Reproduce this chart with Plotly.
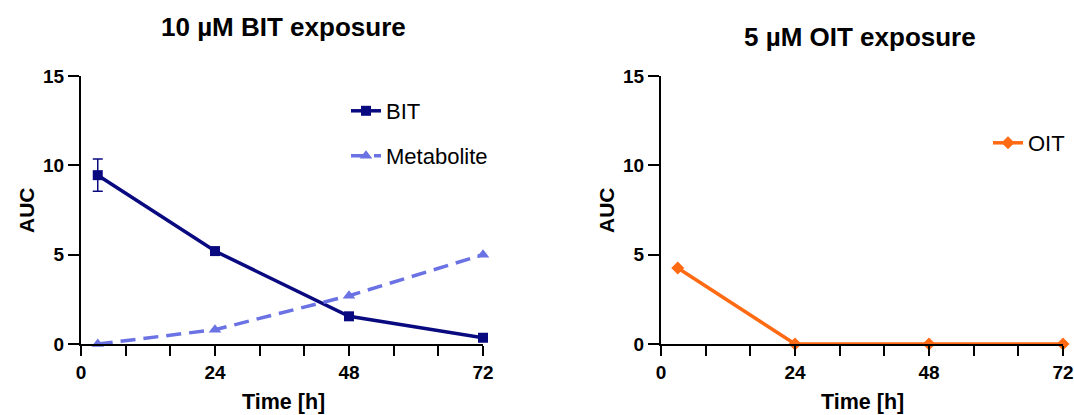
import plotly.graph_objects as go

W, H = 1074, 415

time_bit = [3, 24, 48, 72]
bit_auc = [9.45, 5.2, 1.55, 0.35]
bit_err = [0.9, 0.0, 0.0, 0.0]
metab_auc = [0.0, 0.8, 2.7, 5.0]

time_oit = [3, 24, 48, 72]
oit_auc = [4.25, 0.0, 0.0, 0.0]

x_tickvals = [0, 8, 16, 24, 32, 40, 48, 56, 64, 72]
x_ticktext = ["0", "", "", "24", "", "", "48", "", "", "72"]
y_tickvals = [0, 5, 10, 15]

titles = ["10 µM BIT exposure", "5 µM OIT exposure"]

NAVY = "#0a0a80"
METAB = "#6a72e4"
ORANGE = "#ff6a13"
FONT = "Arial, Liberation Sans, sans-serif"

fig = go.Figure()
fig.add_trace(go.Scatter(
    x=time_bit, y=bit_auc, name="BIT", mode="lines+markers",
    line=dict(color=NAVY, width=3.5),
    marker=dict(symbol="square", size=10, color=NAVY),
    error_y=dict(type="data", array=bit_err, visible=True, color=NAVY, thickness=1.5, width=5),
    xaxis="x", yaxis="y", legend="legend", cliponaxis=False))
fig.add_trace(go.Scatter(
    x=time_bit, y=metab_auc, name="Metabolite", mode="lines+markers",
    line=dict(color=METAB, width=3.5, dash="15px,8px"),
    marker=dict(symbol="triangle-up", size=11, color=METAB),
    xaxis="x", yaxis="y", legend="legend2", cliponaxis=False))
fig.add_trace(go.Scatter(
    x=time_oit, y=oit_auc, name="OIT", mode="lines+markers",
    line=dict(color=ORANGE, width=3.5),
    marker=dict(symbol="diamond", size=10, color=ORANGE),
    xaxis="x2", yaxis="y2", legend="legend3", cliponaxis=False))

def px_x(p):
    return p / W

def px_y(p):
    return 1 - p / H

ydom = [px_y(344), px_y(76)]
xdom1 = [px_x(81), px_x(483)]
xdom2 = [px_x(661), px_x(1063)]

xax = dict(range=[0, 72], tickmode="array", tickvals=x_tickvals, ticktext=x_ticktext,
           ticks="outside", ticklen=10, tickwidth=2, tickcolor="black", automargin=False,
           showline=True, linewidth=2, linecolor="black", showgrid=False, zeroline=False,
           tickfont=dict(family=FONT, size=19, color="black", weight="bold"), fixedrange=True)
yax = dict(range=[0, 15], tickmode="array", tickvals=y_tickvals,
           ticks="outside", ticklen=11, tickwidth=2, tickcolor="black", automargin=False,
           showline=True, linewidth=2, linecolor="black", showgrid=False, zeroline=False,
           tickfont=dict(family=FONT, size=19, color="black", weight="bold"), fixedrange=True)

leg_common = dict(bgcolor="rgba(0,0,0,0)", borderwidth=0, xanchor="left", yanchor="middle",
                  font=dict(family=FONT, size=22, color="black"), itemwidth=30)

fig.update_layout(
    width=W, height=H, margin=dict(l=0, r=0, t=0, b=0, autoexpand=False),
    paper_bgcolor="white", plot_bgcolor="white",
    xaxis=dict(domain=xdom1, anchor="y", **xax),
    yaxis=dict(domain=ydom, anchor="x", **yax),
    xaxis2=dict(domain=xdom2, anchor="y2", **xax),
    yaxis2=dict(domain=ydom, anchor="x2", **yax),
    legend=dict(x=px_x(346), y=px_y(111), **leg_common),
    legend2=dict(x=px_x(346), y=px_y(156), **leg_common),
    legend3=dict(x=px_x(988), y=px_y(143), **leg_common),
    showlegend=True,
)

ann = []
ann.append(dict(text="<b>" + titles[0] + "</b>", x=px_x(283), y=px_y(27), xref="paper", yref="paper",
                showarrow=False, xanchor="center", yanchor="middle",
                font=dict(family=FONT, size=26, color="black")))
ann.append(dict(text="<b>" + titles[1] + "</b>", x=px_x(860), y=px_y(37), xref="paper", yref="paper",
                showarrow=False, xanchor="center", yanchor="middle",
                font=dict(family=FONT, size=26, color="black")))
for cx in (283, 862):
    ann.append(dict(text="<b>Time [h]</b>", x=px_x(cx), y=px_y(402), xref="paper", yref="paper",
                    showarrow=False, xanchor="center", yanchor="middle",
                    font=dict(family=FONT, size=21.5, color="black")))
for cx in (27, 607):
    ann.append(dict(text="<b>AUC</b>", x=px_x(cx), y=px_y(210), xref="paper", yref="paper",
                    showarrow=False, xanchor="center", yanchor="middle", textangle=-90,
                    font=dict(family=FONT, size=21, color="black")))
fig.update_layout(annotations=ann)

fig.write_html("out.html", config={"displayModeBar": False},
               post_script="document.body.style.margin='0';document.body.style.overflow='hidden';")
